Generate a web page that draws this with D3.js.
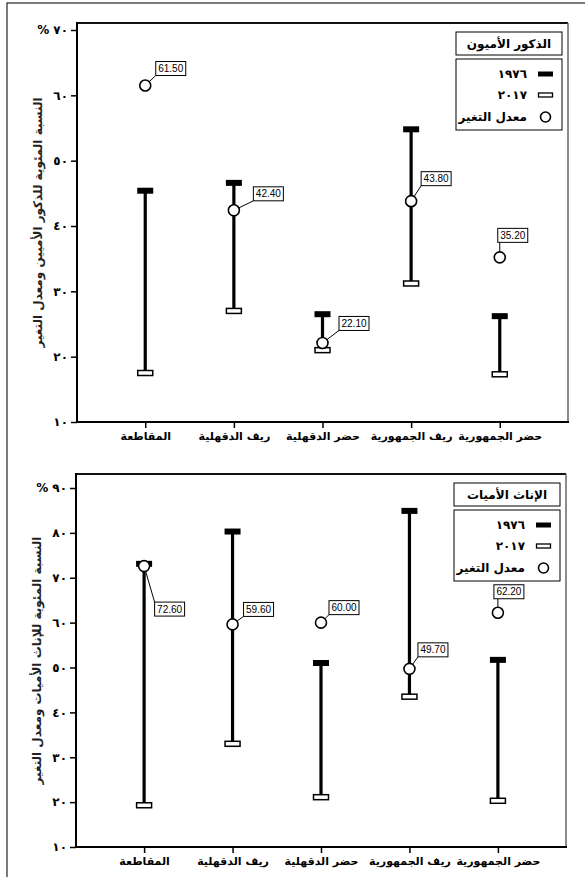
<!DOCTYPE html>
<html><head><meta charset="utf-8">
<script src="https://cdn.jsdelivr.net/npm/d3@7/dist/d3.min.js"></script>
<style>
body{margin:0;background:#fff;}
svg{display:block;}
.ar{font-family:"DejaVu Sans",sans-serif;font-weight:bold;}
.lbl{font-family:"Liberation Sans",Arial,sans-serif;font-size:10px;}
</style></head>
<body>
<svg id="chart" width="585" height="877"></svg>
<script>
// ---------- data ----------
const categories = ["المقاطعة", "ريف الدقهلية", "حضر الدقهلية", "ريف الجمهورية", "حضر الجمهورية"];

// Panel 1: illiterate males
const males1976 = [45.4, 46.6, 26.5, 54.8, 26.2];
const males2017 = [17.5, 27.0, 21.0, 31.2, 17.3];
const malesRate = [61.5, 42.4, 22.1, 43.8, 35.2];
const malesTicks = [10, 20, 30, 40, 50, 60, 70];
const malesTickLabels = ["١٠", "٢٠", "٣٠", "٤٠", "٥٠", "٦٠", "% ٧٠"];
const malesTitle = "الذكور الأميون";
const malesAxisTitle = "النسبة المئوية للذكور الأميين ومعدل التغير";

// Panel 2: illiterate females
const females1976 = [73.1, 80.3, 51.0, 84.9, 51.7];
const females2017 = [19.3, 33.0, 21.1, 43.5, 20.3];
const femalesRate = [72.6, 59.6, 60.0, 49.7, 62.2];
const femalesTicks = [10, 20, 30, 40, 50, 60, 70, 80, 90];
const femalesTickLabels = ["١٠", "٢٠", "٣٠", "٤٠", "٥٠", "٦٠", "٧٠", "٨٠", "% ٩٠"];
const femalesTitle = "الإناث الأميات";
const femalesAxisTitle = "النسبة المئوية للإناث الأميات ومعدل التغير";

const legendLabels = ["١٩٧٦", "٢٠١٧", "معدل التغير"];

// label box offsets (styling, relative to the rate marker)
const malesLabelOffsets = [[25.5,-17],[34.5,-16.5],[31.5,-19.5],[25,-22.5],[13,-22]];
const femalesLabelOffsets = [[25.5,43],[26,-15],[23,-15],[23.5,-19],[11,-21]];

// ---------- drawing ----------
const svg = d3.select("#chart");

// outer border
svg.append("rect").attr("x",7).attr("y",3).attr("width",600).attr("height",900)
  .attr("fill","none").attr("stroke","#222").attr("stroke-width",1.2);

function drawPanel(o){
  const g = svg.append("g");
  const x = d3.scalePoint().domain(categories).range([o.left, o.right]).padding(0.77);
  const y = d3.scaleLinear().domain(o.domain).range([o.bottom, o.y0]);

  // frame
  g.append("line").attr("x1",o.left).attr("x2",o.right).attr("y1",o.top).attr("y2",o.top)
    .attr("stroke","#111").attr("stroke-width",2);
  g.append("line").attr("x1",o.right).attr("x2",o.right).attr("y1",o.top).attr("y2",o.bottom)
    .attr("stroke","#666").attr("stroke-width",1.5);
  g.append("line").attr("x1",o.left).attr("x2",o.left).attr("y1",o.top-1).attr("y2",o.bottom+1)
    .attr("stroke","#000").attr("stroke-width",2);
  g.append("line").attr("x1",o.left).attr("x2",o.right+1).attr("y1",o.bottom).attr("y2",o.bottom)
    .attr("stroke","#000").attr("stroke-width",2);

  // y axis
  const ya = g.append("g").attr("transform",`translate(${o.left},0)`)
    .call(d3.axisLeft(y).tickValues(o.ticks).tickSize(6).tickSizeOuter(0)
      .tickFormat((d,i)=>o.tickLabels[i]));
  ya.select(".domain").remove();
  ya.selectAll(".tick line").attr("stroke","#000").attr("stroke-width",1.5);
  ya.selectAll(".tick text").attr("class","ar").attr("font-size",12).attr("fill","#000")
    .attr("direction","ltr").attr("x",-9);

  // x axis
  const xa = g.append("g").attr("transform",`translate(0,${o.bottom})`)
    .call(d3.axisBottom(x).tickSize(6).tickSizeOuter(0));
  xa.select(".domain").remove();
  xa.selectAll(".tick line").attr("stroke","#000").attr("stroke-width",1.5);
  xa.selectAll(".tick text").attr("class","ar").attr("font-size",11).attr("fill","#000")
    .attr("y",10).attr("dy","0.71em");

  // y axis title
  g.append("text").attr("class","ar").attr("font-size",12).attr("fill","#222")
    .attr("text-anchor","middle")
    .attr("transform",`translate(${o.left-39},${(o.top+o.bottom)/2}) rotate(-90)`)
    .attr("dy","0.35em").text(o.axisTitle);

  const rows = categories.map((c,i)=>({c, a:o.v1976[i], b:o.v2017[i], r:o.rate[i], off:o.offsets[i]}));

  // range lines
  g.selectAll(".rng").data(rows).join("line")
    .attr("x1",d=>x(d.c)).attr("x2",d=>x(d.c))
    .attr("y1",d=>y(d.a)).attr("y2",d=>y(d.b))
    .attr("stroke","#000").attr("stroke-width",3.2);
  // 1976 caps (filled)
  g.selectAll(".c1").data(rows).join("rect")
    .attr("x",d=>x(d.c)-8).attr("y",d=>y(d.a)-3).attr("width",16).attr("height",6)
    .attr("fill","#000");
  // 2017 caps (hollow)
  g.selectAll(".c2").data(rows).join("rect")
    .attr("x",d=>x(d.c)-7.5).attr("y",d=>y(d.b)-2.5).attr("width",15).attr("height",5)
    .attr("fill","#fff").attr("stroke","#000").attr("stroke-width",1.5);

  // leaders + labels
  const bw = 30, bh = 14;
  rows.forEach(d=>{
    const cx = x(d.c), cy = y(d.r);
    const bx = cx + d.off[0] - bw/2, by = cy + d.off[1] - bh/2;
    const px = Math.max(bx, Math.min(cx, bx+bw)), py = Math.max(by, Math.min(cy, by+bh));
    g.append("line").attr("x1",cx).attr("y1",cy).attr("x2",px).attr("y2",py)
      .attr("stroke","#000").attr("stroke-width",1);
    g.append("rect").attr("x",bx).attr("y",by).attr("width",bw).attr("height",bh)
      .attr("fill","#fff").attr("stroke","#000").attr("stroke-width",1);
    g.append("text").attr("class","lbl").attr("x",bx+bw/2).attr("y",by+bh/2)
      .attr("dy","0.36em").attr("text-anchor","middle").attr("fill","#000")
      .text(d3.format(".2f")(d.r));
  });
  // rate circles
  g.selectAll(".rc").data(rows).join("circle")
    .attr("cx",d=>x(d.c)).attr("cy",d=>y(d.r)).attr("r",5.5)
    .attr("fill","#fff").attr("stroke","#000").attr("stroke-width",1.6);

  // legend
  const L = o.legend;
  g.append("rect").attr("x",L.x).attr("y",L.y).attr("width",106).attr("height",23)
    .attr("fill","#fff").attr("stroke","#000").attr("stroke-width",1);
  g.append("text").attr("class","ar").attr("font-size",12).attr("x",L.x+53).attr("y",L.y+12)
    .attr("dy","0.35em").attr("text-anchor","middle").text(o.title);
  g.append("rect").attr("x",L.x).attr("y",L.y+27).attr("width",106).attr("height",71)
    .attr("fill","#fff").attr("stroke","#000").attr("stroke-width",1);
  const iy = [L.y+42, L.y+63, L.y+85];
  legendLabels.forEach((t,i)=>{
    g.append("text").attr("class","ar").attr("font-size",12).attr("x",L.x+71).attr("y",iy[i])
      .attr("dy","0.35em").attr("text-anchor","end").text(t);
  });
  g.append("rect").attr("x",L.x+82).attr("y",iy[0]-2.5).attr("width",15).attr("height",5).attr("fill","#000");
  g.append("rect").attr("x",L.x+82.5).attr("y",iy[1]-2).attr("width",14).attr("height",4)
    .attr("fill","#fff").attr("stroke","#000").attr("stroke-width",1.3);
  g.append("circle").attr("cx",L.x+89.5).attr("cy",iy[2]).attr("r",5)
    .attr("fill","#fff").attr("stroke","#000").attr("stroke-width",1.6);
}

drawPanel({left:77, right:568, top:23, bottom:422, y0:30, domain:[10,70],
  ticks:malesTicks, tickLabels:malesTickLabels, v1976:males1976, v2017:males2017, rate:malesRate,
  offsets:malesLabelOffsets, title:malesTitle, axisTitle:malesAxisTitle, legend:{x:456,y:32}});
drawPanel({left:76, right:566, top:474, bottom:847, y0:488, domain:[10,90],
  ticks:femalesTicks, tickLabels:femalesTickLabels, v1976:females1976, v2017:females2017, rate:femalesRate,
  offsets:femalesLabelOffsets, title:femalesTitle, axisTitle:femalesAxisTitle, legend:{x:454,y:483}});
</script>
</body></html>
